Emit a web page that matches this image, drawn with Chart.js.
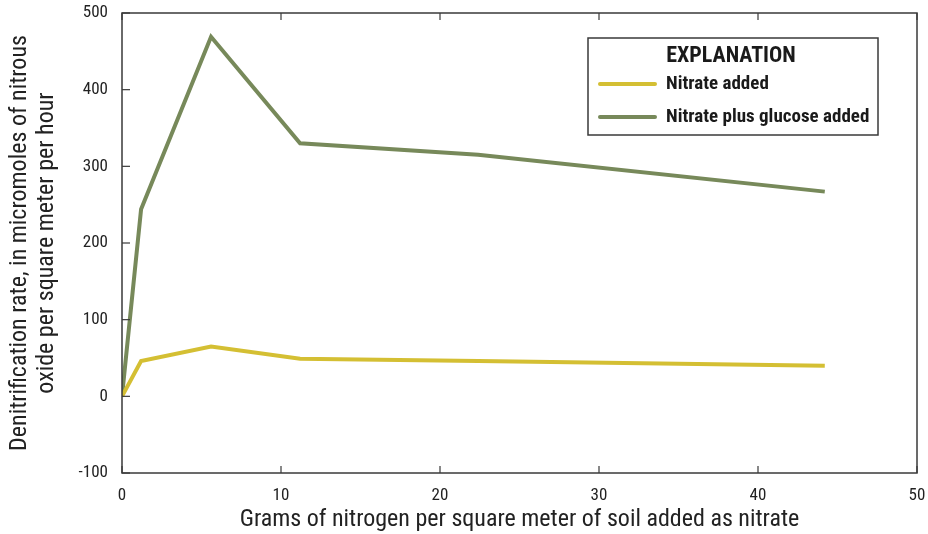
<!DOCTYPE html>
<html>
<head>
<meta charset="utf-8">
<script src="https://cdn.jsdelivr.net/npm/chart.js@4/dist/chart.umd.min.js"></script>
<style>
  html, body { margin: 0; padding: 0; background: #fff; }
  #wrap { width: 928px; height: 534px; }
</style>
</head>
<body>
<div id="wrap"><canvas id="denitChart" width="928" height="534"></canvas></div>
<script>
// grams N added (x) and denitrification rates (y)
const nitrogenAdded = [0, 1.2, 5.6, 11.2, 22.4, 44.2];
const nitrateOnly = [0, 46, 65, 49, 46, 40];
const nitrateGlucose = [0, 244, 469, 330, 315, 267];
const seriesLabels = ['Nitrate added', 'Nitrate plus glucose added'];
const xTicks = [0, 10, 20, 30, 40, 50];
const yTicks = [-100, 0, 100, 200, 300, 400, 500];

const FONT = '"Roboto Condensed", "Liberation Sans Narrow", Roboto, sans-serif';
const AXIS = '#3a3a3a';

const toPoints = (ys) => ys.map((y, i) => ({ x: nitrogenAdded[i], y: y }));

// frame, inward tick marks and the EXPLANATION box
const framePlugin = {
  id: 'frame',
  afterDraw(chart) {
    const { ctx, chartArea: a, scales } = chart;
    ctx.save();
    ctx.strokeStyle = AXIS;
    ctx.lineWidth = 1.5;
    ctx.strokeRect(a.left, a.top, a.right - a.left, a.bottom - a.top);

    ctx.lineWidth = 1.2;
    xTicks.forEach(v => {
      const px = scales.x.getPixelForValue(v);
      ctx.beginPath();
      ctx.moveTo(px, a.bottom); ctx.lineTo(px, a.bottom - 7);
      ctx.moveTo(px, a.top); ctx.lineTo(px, a.top + 7);
      ctx.stroke();
    });
    yTicks.forEach(v => {
      const py = scales.y.getPixelForValue(v);
      ctx.beginPath();
      ctx.moveTo(a.left, py); ctx.lineTo(a.left + 8, py);
      ctx.stroke();
    });

    // legend box
    const bx = 588, by = 38, bw = 290, bh = 97;
    ctx.fillStyle = '#fff';
    ctx.fillRect(bx, by, bw, bh);
    ctx.lineWidth = 1.5;
    ctx.strokeRect(bx, by, bw, bh);
    ctx.fillStyle = '#1a1a1a';
    ctx.textAlign = 'center';
    ctx.textBaseline = 'middle';
    ctx.font = 'bold 22px ' + FONT;
    ctx.fillText('EXPLANATION', bx + 143, by + 18);
    ctx.textAlign = 'left';
    ctx.font = 'bold 19px ' + FONT;
    chart.data.datasets.forEach((ds, i) => {
      const ly = by + 46 + i * 33;
      ctx.strokeStyle = ds.borderColor;
      ctx.lineWidth = 4;
      ctx.lineCap = 'round';
      ctx.beginPath();
      ctx.moveTo(bx + 12, ly); ctx.lineTo(bx + 67, ly);
      ctx.stroke();
      ctx.fillText(ds.label, bx + 78, ly);
    });
    ctx.restore();
  }
};

new Chart(document.getElementById('denitChart'), {
  type: 'line',
  data: {
    datasets: [
      {
        label: seriesLabels[0],
        data: toPoints(nitrateOnly),
        borderColor: '#d4bf33',
        borderWidth: 4,
        pointRadius: 0,
        tension: 0,
        fill: false
      },
      {
        label: seriesLabels[1],
        data: toPoints(nitrateGlucose),
        borderColor: '#77895a',
        borderWidth: 4,
        pointRadius: 0,
        tension: 0,
        fill: false
      }
    ]
  },
  options: {
    responsive: false,
    animation: false,
    layout: { padding: { left: 0, right: 11, top: 13, bottom: 0 } },
    plugins: {
      legend: { display: false },
      tooltip: { enabled: false }
    },
    scales: {
      x: {
        type: 'linear',
        min: 0,
        max: 50,
        afterBuildTicks: (s) => { s.ticks = xTicks.map(v => ({ value: v })); },
        afterFit: (s) => { s.height = 61; s.paddingLeft = 0; s.paddingRight = 0; },
        grid: { display: false, drawTicks: false },
        border: { display: false },
        ticks: { color: '#222', padding: 13, font: { family: FONT, size: 17 } },
        title: {
          display: true,
          text: 'Grams of nitrogen per square meter of soil added as nitrate',
          color: '#222',
          padding: { top: 0, bottom: 0 },
          font: { family: FONT, size: 24 }
        }
      },
      y: {
        min: -100,
        max: 500,
        afterBuildTicks: (s) => { s.ticks = yTicks.map(v => ({ value: v })); },
        afterFit: (s) => { s.width = 122; s.paddingTop = 0; s.paddingBottom = 0; },
        grid: { display: false, drawTicks: false },
        border: { display: false },
        ticks: { color: '#222', padding: 14, font: { family: FONT, size: 17 } },
        title: {
          display: true,
          text: ['Denitrification rate, in micromoles of nitrous', 'oxide per square meter per hour'],
          color: '#222',
          padding: { top: 7, bottom: 0 },
          font: { family: FONT, size: 24, lineHeight: 1.1 }
        }
      }
    }
  },
  plugins: [framePlugin]
});
</script>
</body>
</html>
